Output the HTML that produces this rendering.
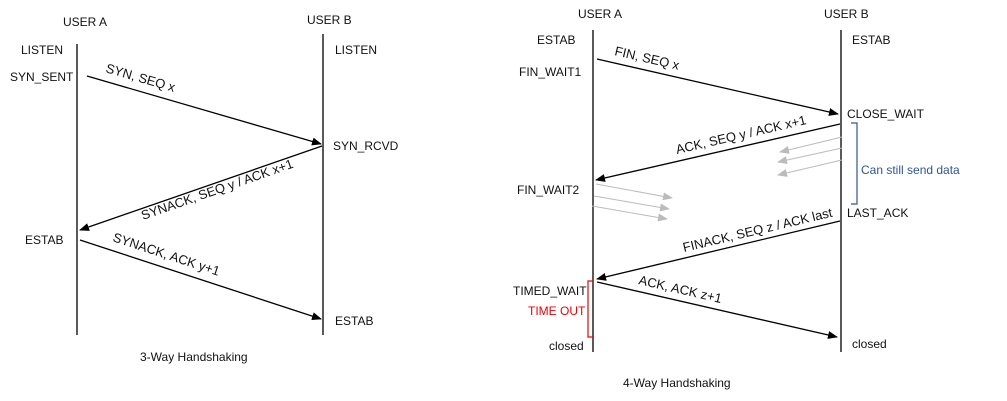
<!DOCTYPE html>
<html><head><style>body{margin:0;background:#fff}svg{display:block}text{font-family:"Liberation Sans","Noto Sans CJK KR",sans-serif;font-size:12px;fill:#111}.r{font-size:13px}</style></head>
<body>
<svg width="1007" height="401" viewBox="0 0 1007 401" xmlns="http://www.w3.org/2000/svg">
<defs>
<marker id="a" markerWidth="10" markerHeight="8" refX="9" refY="4" orient="auto" markerUnits="userSpaceOnUse"><path d="M0,0 L10,4 L0,8 z" fill="#000"/></marker>
<marker id="g" markerWidth="10" markerHeight="8" refX="9" refY="4" orient="auto" markerUnits="userSpaceOnUse"><path d="M0,0 L10,4 L0,8 z" fill="#bbb"/></marker>
</defs>
<g stroke="#000" stroke-width="1.3">
<line x1="77" y1="44" x2="77" y2="335"/><line x1="323" y1="34" x2="323" y2="335"/>
<line x1="593" y1="30" x2="593" y2="352"/><line x1="841" y1="30" x2="841" y2="352"/>
<line x1="87" y1="76" x2="321" y2="144" marker-end="url(#a)"/>
<line x1="322" y1="146" x2="80" y2="230" marker-end="url(#a)"/>
<line x1="80" y1="240" x2="321" y2="319" marker-end="url(#a)"/>
<line x1="597" y1="59" x2="838" y2="114" marker-end="url(#a)"/>
<line x1="840" y1="124" x2="596" y2="180" marker-end="url(#a)"/>
<line x1="840" y1="221" x2="597" y2="279" marker-end="url(#a)"/>
<line x1="597" y1="282" x2="837" y2="337" marker-end="url(#a)"/>
</g>
<g stroke="#bbb" stroke-width="1">
<line x1="842" y1="137" x2="780" y2="152" marker-end="url(#g)"/>
<line x1="842" y1="148" x2="778" y2="162" marker-end="url(#g)"/>
<line x1="842" y1="160" x2="778" y2="175" marker-end="url(#g)"/>
<line x1="596" y1="184" x2="672" y2="198" marker-end="url(#g)"/>
<line x1="594" y1="196" x2="669" y2="209" marker-end="url(#g)"/>
<line x1="592" y1="206" x2="667" y2="219" marker-end="url(#g)"/>
</g>
<path d="M851,123 H857 V204 H851" fill="none" stroke="#2F5597" stroke-width="1.2"/>
<path d="M593,281 H588 V337 H593" fill="none" stroke="#e00" stroke-width="1.2"/>
<text x="63" y="26">USER A</text><text x="307" y="24">USER B</text>
<text x="21" y="54">LISTEN</text><text x="335" y="54">LISTEN</text>
<text x="10" y="81">SYN_SENT</text><text x="333" y="150">SYN_RCVD</text>
<text x="25" y="244">ESTAB</text><text x="335" y="325">ESTAB</text>
<text x="140" y="361">3-Way  Handshaking</text>
<text class="r" transform="translate(105,72) rotate(16.2)">SYN, SEQ x</text>
<text class="r" transform="translate(143,220) rotate(-19.2)">SYNACK, SEQ y / ACK x+1</text>
<text class="r" transform="translate(112,241) rotate(18.2)">SYNACK, ACK y+1</text>
<text x="578" y="18">USER A</text><text x="824" y="18">USER B</text>
<text x="537" y="44">ESTAB</text><text x="852" y="44">ESTAB</text>
<text x="519" y="76">FIN_WAIT1</text><text x="847" y="118">CLOSE_WAIT</text>
<text x="517" y="194">FIN_WAIT2</text><text x="847" y="217">LAST_ACK</text>
<text x="513" y="295">TIMED_WAIT</text>
<text x="528" y="315" style="fill:#e00">TIME OUT</text>
<text x="549" y="350">closed</text><text x="852" y="348">closed</text>
<text x="861" y="174" style="fill:#2F5597">Can still send data</text>
<text x="623" y="387">4-Way  Handshaking</text>
<text class="r" transform="translate(614,55) rotate(13)">FIN, SEQ x</text>
<text class="r" transform="translate(677,154) rotate(-13)">ACK, SEQ y / ACK x+1</text>
<text class="r" transform="translate(684,252) rotate(-13.4)">FINACK, SEQ z / ACK last</text>
<text class="r" transform="translate(638,284) rotate(13)">ACK, ACK z+1</text>
</svg>
</body></html>
